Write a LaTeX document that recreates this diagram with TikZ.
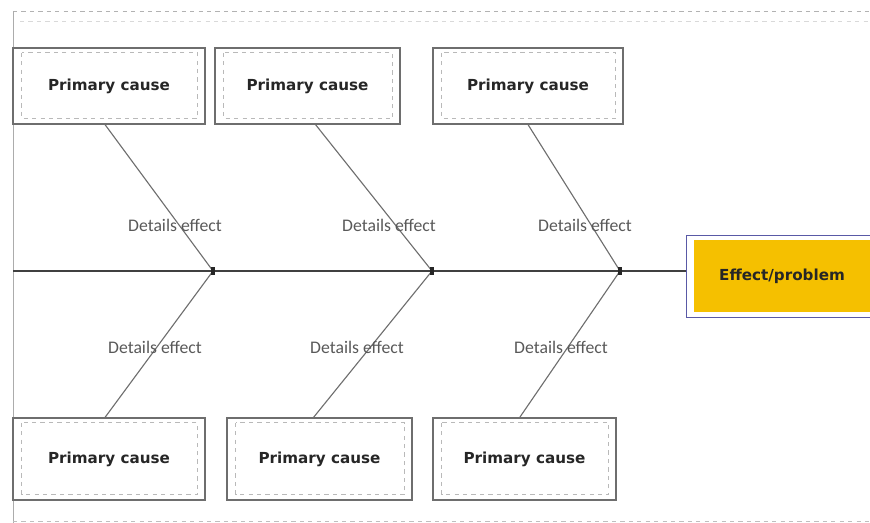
\documentclass[tikz,border=0pt]{standalone}
\usepackage{fontspec}
\setmainfont{DejaVu Sans}
\newfontfamily\labelfont{Carlito}
\usetikzlibrary{positioning}
\definecolor{boxgray}{HTML}{6E6E6E}
\definecolor{effectyellow}{HTML}{F5C000}

\begin{document}
\begin{tikzpicture}[
    x=0.25mm, y=-0.25mm,
    cause/.style={draw=boxgray, line width=0.8pt, minimum width=48mm, minimum height=19mm,
      font=\fontsize{10.8}{12}\selectfont\bfseries, text=black!85,
      path picture={\draw[gray!55, dashed, line width=0.5pt]
        ([shift={(2.2mm,-1.2mm)}]path picture bounding box.north west) rectangle
        ([shift={(-1.8mm,1.4mm)}]path picture bounding box.south east);}},
    lowcause/.style={cause, minimum height=20.5mm},
    effect/.style={draw=gray!70!blue, line width=0.6pt, minimum width=48mm, minimum height=20.5mm,
      font=\fontsize{10.8}{12}\selectfont\bfseries, text=black!85,
      path picture={\fill[effectyellow]
        ([shift={(2mm,-1.3mm)}]path picture bounding box.north west) rectangle
        ([shift={(-0.3mm,1.3mm)}]path picture bounding box.south east);}},
    detail/.style={font=\labelfont\fontsize{12.6}{14}\selectfont, text=black!65},
    bone/.style={draw=boxgray, line width=0.8pt},
    spine/.style={draw=black!75, line width=0.8pt},
  ]
    \useasboundingbox (0,0) rectangle (870,523);

    % frame
    \draw[gray!60, dashed, line width=0.6pt] (13,11) -- (880,11);
    \draw[gray!30, dashed, line width=0.5pt] (20,21) -- (880,21);
    \draw[gray!65, line width=0.6pt] (13,11) -- (13,523);
    \draw[gray!50, dashed, line width=0.6pt] (13,521) -- (880,521);

    % causes
    \node[cause] (t1) at (109,86) {Primary cause};
    \node[cause, minimum width=46.25mm] (t2) at (307.5,86) {Primary cause};
    \node[cause, minimum width=47.5mm] (t3) at (528,86) {Primary cause};
    \node[lowcause] (b1) at (109,459) {Primary cause};
    \node[lowcause, minimum width=46.25mm] (b2) at (319.5,459) {Primary cause};
    \node[lowcause, minimum width=45.75mm] (b3) at (524.5,459) {Primary cause};

    % effect
    \node[effect] (eff) at (782,276) {Effect/problem};

    % spine
    \coordinate (tail) at (13,271);
    \coordinate (j1) at (213,271);
    \coordinate (j2) at (432,271);
    \coordinate (j3) at (620,271);
    \draw[spine] (tail) -- (eff.west |- tail);

    % bones
    \draw[bone] ([xshift=-1mm]t1.south) -- (j1);
    \draw[bone] ([xshift=2mm]t2.south) -- (j2);
    \draw[bone] (t3.south) -- (j3);
    \draw[bone] ([xshift=-1mm]b1.north) -- (j1);
    \draw[bone] ([xshift=-1.5mm]b2.north) -- (j2);
    \draw[bone] ([xshift=-1.2mm]b3.north) -- (j3);

    % junction marks
    \foreach \j in {j1,j2,j3}
      \fill[black!85] ([shift={(-0.5mm,-1mm)}]\j) rectangle ([shift={(0.4mm,1mm)}]\j);

    % labels
    \node[detail] (d1) at (175,225) {Details effect};
    \node[detail] (d2) at (389,225) {Details effect};
    \node[detail] (d3) at (585,225) {Details effect};
    \node[detail] (d4) at (155,347) {Details effect};
    \node[detail] (d5) at (357,347) {Details effect};
    \node[detail] (d6) at (561,347) {Details effect};
  \end{tikzpicture}
\end{document}
